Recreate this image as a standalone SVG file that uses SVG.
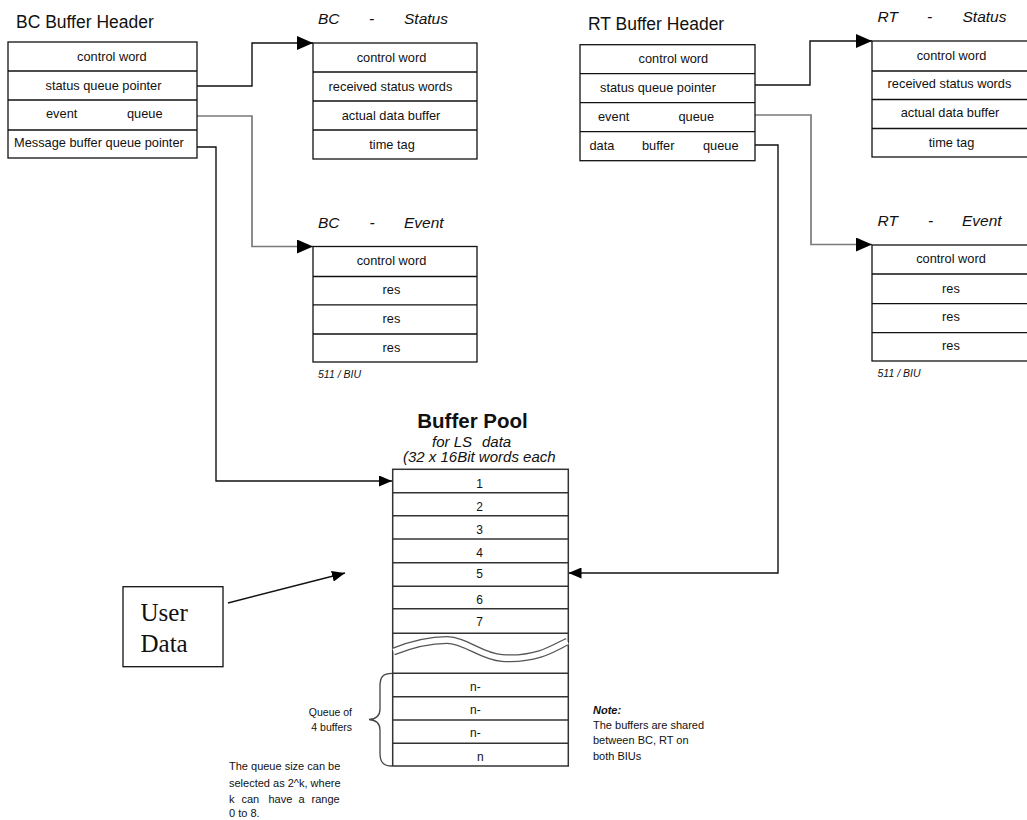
<svg xmlns="http://www.w3.org/2000/svg" width="1027" height="820" viewBox="0 0 1027 820">
<style>
text{font-family:"Liberation Sans",Arial,sans-serif;fill:#111}
text.serif{font-family:"Liberation Serif","Times New Roman",serif;font-size:25px}
.title{font-size:17.5px}
.ital{font-size:15.5px;font-style:italic}
.cell{font-size:12.8px}
.c{text-anchor:middle}
.box{fill:#fff;stroke:#111;stroke-width:1.3}
.row{stroke:#111;stroke-width:1.3}
.pool{fill:#fff;stroke:#333;stroke-width:1.5}
.prow{stroke:#333;stroke-width:1.5}
.num{font-size:12px;text-anchor:middle}
.small{font-size:10.5px;font-style:italic}
.note{font-size:11px}
.conn{fill:none;stroke:#111;stroke-width:1.4}
.gray{fill:none;stroke:#7a7a7a;stroke-width:1.7}
</style>
<defs>
<marker id="aL" markerWidth="16" markerHeight="14" refX="16" refY="7" orient="auto" markerUnits="userSpaceOnUse"><path d="M0,0 L16,7 L0,14 z" fill="#000"/></marker>
<marker id="aS" markerWidth="13" markerHeight="11" refX="13" refY="5.5" orient="auto" markerUnits="userSpaceOnUse"><path d="M0,0 L13,5.5 L0,11 z" fill="#000"/></marker>
</defs>
<rect width="1027" height="820" fill="#fff"/>

<g id="connectors">
<path class="conn" d="M197,86 H252 V43 H313" marker-end="url(#aL)"/>
<path class="gray" d="M197,116 H252 V246.5 H313" marker-end="url(#aL)"/>
<path class="conn" d="M197,147 H216 V481 H392" marker-end="url(#aS)"/>
<path class="conn" d="M755,85 H810 V41 H872" marker-end="url(#aL)"/>
<path class="gray" d="M755,115 H811 V244.5 H872" marker-end="url(#aL)"/>
<path class="conn" d="M755,145 H778 V573 H568.5" marker-end="url(#aS)"/>
<path class="conn" d="M228,603 L345,573" stroke-width="1.6" marker-end="url(#aS)"/>
</g>

<g id="bc-header">
<text class="title" x="16" y="28">BC Buffer Header</text>
<rect class="box" x="8" y="42" width="189" height="116"/>
<line class="row" x1="8" y1="71" x2="197" y2="71"/>
<line class="row" x1="8" y1="100" x2="197" y2="100"/>
<line class="row" x1="8" y1="130" x2="197" y2="130"/>
<text class="cell" x="77" y="61">control word</text>
<text class="cell" x="45.5" y="90">status queue pointer</text>
<text class="cell" x="46" y="117.5">event</text>
<text class="cell" x="127" y="117.5">queue</text>
<text class="cell" x="14" y="147">Message buffer queue pointer</text>
</g>

<g id="bc-status">
<text class="ital" x="318" y="24">BC</text>
<text class="ital" x="369" y="24">-</text>
<text class="ital" x="404" y="24">Status</text>
<rect class="box" x="313" y="43" width="164" height="116"/>
<line class="row" x1="313" y1="72" x2="477" y2="72"/>
<line class="row" x1="313" y1="101" x2="477" y2="101"/>
<line class="row" x1="313" y1="130" x2="477" y2="130"/>
<text class="cell c" x="391.5" y="62">control word</text>
<text class="cell c" x="390.5" y="91">received status words</text>
<text class="cell c" x="391" y="119.5">actual data buffer</text>
<text class="cell c" x="392" y="148.5">time tag</text>
</g>

<g id="bc-event">
<text class="ital" x="318" y="227.5">BC</text>
<text class="ital" x="369.5" y="227.5">-</text>
<text class="ital" x="404" y="227.5">Event</text>
<rect class="box" x="313" y="246.5" width="164" height="115.5"/>
<line class="row" x1="313" y1="276.5" x2="477" y2="276.5"/>
<line class="row" x1="313" y1="304.8" x2="477" y2="304.8"/>
<line class="row" x1="313" y1="334" x2="477" y2="334"/>
<text class="cell c" x="391.5" y="264.5">control word</text>
<text class="cell c" x="391.5" y="293.5">res</text>
<text class="cell c" x="391.5" y="322.5">res</text>
<text class="cell c" x="391.5" y="351.5">res</text>
<text class="small" x="318" y="377.5">511 / BIU</text>
</g>

<g id="rt-header">
<text class="title" x="588" y="29.5">RT Buffer Header</text>
<rect class="box" x="580" y="44.7" width="175" height="116"/>
<line class="row" x1="580" y1="73.7" x2="755" y2="73.7"/>
<line class="row" x1="580" y1="102.7" x2="755" y2="102.7"/>
<line class="row" x1="580" y1="131.7" x2="755" y2="131.7"/>
<text class="cell" x="638.5" y="63">control word</text>
<text class="cell" x="600" y="92">status queue pointer</text>
<text class="cell" x="598" y="121">event</text>
<text class="cell" x="678.5" y="121">queue</text>
<text class="cell" x="589.5" y="149.5">data</text>
<text class="cell" x="642" y="149.5">buffer</text>
<text class="cell" x="703" y="149.5">queue</text>
</g>

<g id="rt-status">
<text class="ital" x="877.5" y="22">RT</text>
<text class="ital" x="927" y="22">-</text>
<text class="ital" x="962.5" y="22">Status</text>
<rect class="box" x="872" y="41" width="170" height="116"/>
<line class="row" x1="872" y1="71" x2="1042" y2="71"/>
<line class="row" x1="872" y1="99.5" x2="1042" y2="99.5"/>
<line class="row" x1="872" y1="128.5" x2="1042" y2="128.5"/>
<text class="cell c" x="951.5" y="59.5">control word</text>
<text class="cell c" x="949.5" y="88">received status words</text>
<text class="cell c" x="950" y="117">actual data buffer</text>
<text class="cell c" x="951.5" y="146.5">time tag</text>
</g>

<g id="rt-event">
<text class="ital" x="877.5" y="226">RT</text>
<text class="ital" x="928" y="226">-</text>
<text class="ital" x="962" y="226">Event</text>
<rect class="box" x="872" y="245" width="170" height="116"/>
<line class="row" x1="872" y1="274" x2="1042" y2="274"/>
<line class="row" x1="872" y1="303.7" x2="1042" y2="303.7"/>
<line class="row" x1="872" y1="332.7" x2="1042" y2="332.7"/>
<text class="cell c" x="951" y="263">control word</text>
<text class="cell c" x="951" y="292.5">res</text>
<text class="cell c" x="951" y="321">res</text>
<text class="cell c" x="951" y="350">res</text>
<text class="small" x="877.5" y="377">511 / BIU</text>
</g>

<g id="buffer-pool">
<text x="472.5" y="427.5" text-anchor="middle" font-size="20.5" font-weight="bold">Buffer Pool</text>
<text x="432" y="447" font-size="15" font-style="italic"><tspan>for LS</tspan><tspan x="482">data</tspan></text>
<text x="403" y="462" font-size="15" font-style="italic">(32 x 16Bit words each</text>
<rect class="pool" x="392.7" y="469.3" width="175.6" height="296.7"/>
<line class="prow" x1="392.7" y1="492.7" x2="568.3" y2="492.7"/>
<line class="prow" x1="392.7" y1="515.7" x2="568.3" y2="515.7"/>
<line class="prow" x1="392.7" y1="539" x2="568.3" y2="539"/>
<line class="prow" x1="392.7" y1="562.7" x2="568.3" y2="562.7"/>
<line class="prow" x1="392.7" y1="586.3" x2="568.3" y2="586.3"/>
<line class="prow" x1="392.7" y1="608.7" x2="568.3" y2="608.7"/>
<line class="prow" x1="392.7" y1="633.2" x2="568.3" y2="633.2"/>
<line class="prow" x1="392.7" y1="673.3" x2="568.3" y2="673.3"/>
<line class="prow" x1="392.7" y1="696.7" x2="568.3" y2="696.7"/>
<line class="prow" x1="392.7" y1="720" x2="568.3" y2="720"/>
<line class="prow" x1="392.7" y1="743.3" x2="568.3" y2="743.3"/>
<path d="M393.5,651.5 C410,645 430,640 447,640 C465,640 482,657 502,658 C515,659 530,657 540,654 C550,651 560,645 567.5,641.5" fill="none" stroke="#555" stroke-width="8"/>
<path d="M393.5,651.5 C410,645 430,640 447,640 C465,640 482,657 502,658 C515,659 530,657 540,654 C550,651 560,645 567.5,641.5" fill="none" stroke="#fff" stroke-width="5.4"/>
<text class="num" x="479.5" y="487.5">1</text>
<text class="num" x="479.5" y="511">2</text>
<text class="num" x="479.5" y="534">3</text>
<text class="num" x="479.5" y="557">4</text>
<text class="num" x="479.5" y="577.5">5</text>
<text class="num" x="479.5" y="603.5">6</text>
<text class="num" x="479.5" y="626">7</text>
<text x="470" y="690.5" font-size="12">n-</text>
<text x="470" y="714" font-size="12">n-</text>
<text x="470" y="737" font-size="12">n-</text>
<text x="477" y="761" font-size="12">n</text>
</g>

<g id="user-data">
<rect class="box" x="123" y="586.7" width="100" height="80" stroke-width="1.5"/>
<text class="serif" x="140.5" y="621">User</text>
<text class="serif" x="140.5" y="652">Data</text>
</g>

<g id="queue-brace">
<path d="M392,673.3 C383,673.3 380,677 380,686 L380,709 C380,715 376,719 369,719.5 C376,720 380,724 380,730 L380,753 C380,762 383,766 392,766" fill="none" stroke="#444" stroke-width="1.3"/>
<text x="352" y="716" font-size="10.5" text-anchor="end">Queue of</text>
<text x="352" y="731" font-size="10.5" text-anchor="end">4 buffers</text>
</g>

<g id="queue-note">
<text class="note" x="229" y="770">The queue size can be</text>
<text class="note" x="229" y="786.5">selected as 2^k, where</text>
<text class="note" y="802.5"><tspan x="229">k</tspan><tspan x="241.5">can</tspan><tspan x="268.5">have</tspan><tspan x="298.5">a</tspan><tspan x="311.5">range</tspan></text>
<text class="note" x="229" y="817">0 to 8.</text>
</g>

<g id="shared-note">
<text class="note" x="593" y="713.5" font-weight="bold" font-style="italic">Note:</text>
<text class="note" x="593" y="728.5">The buffers are shared</text>
<text class="note" x="593" y="743.5">between BC, RT on</text>
<text class="note" x="593" y="760">both BIUs</text>
</g>
</svg>
